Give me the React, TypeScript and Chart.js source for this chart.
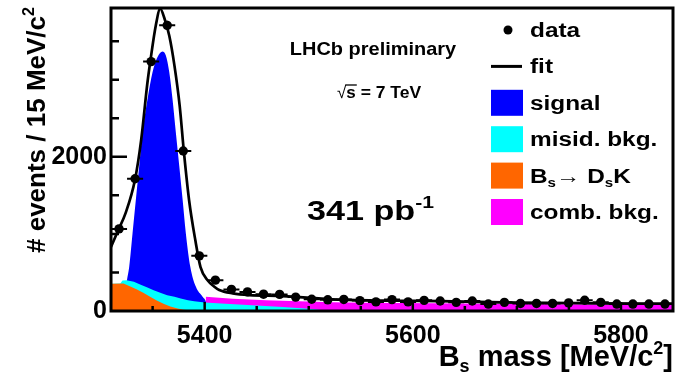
import React, { useEffect, useRef } from 'react';
import { Chart, registerables } from 'chart.js';

Chart.register(...registerables);

const FONT = '"Liberation Sans", Arial, Helvetica, sans-serif';

// ---- axes ----
const xMin = 5310;
const xMax = 5850;
const yMin = 0;
const yMax = 3930;
const xStep = 50;
const yStep = 500;
const xLabelValues = [5400, 5600, 5800];
const yLabelValues = [0, 2000];

// ---- data: 35 bins over 5310-5850 MeV/c^2 ----
const binCenters = [
  5317.71, 5333.14, 5348.57, 5364.0, 5379.43, 5394.86, 5410.29, 5425.71, 5441.14, 5456.57,
  5472.0, 5487.43, 5502.86, 5518.29, 5533.71, 5549.14, 5564.57, 5580.0, 5595.43, 5610.86,
  5626.29, 5641.71, 5657.14, 5672.57, 5688.0, 5703.43, 5718.86, 5734.29, 5749.71, 5765.14,
  5780.57, 5796.0, 5811.43, 5826.86, 5842.29,
];
const binHalfWidth = 7.71;
const dataCounts = [
  1065, 1715, 3235, 3705, 2075, 715, 400, 280, 248, 218,
  215, 180, 152, 145, 150, 135, 118, 148, 118, 138,
  130, 112, 130, 90, 112, 98, 98, 98, 105, 140,
  112, 90, 90, 90, 90,
];

// ---- fit (total) ----
const fitMass = [5310, 5317, 5324, 5333, 5339, 5345, 5348, 5353, 5357.3, 5361, 5366, 5371, 5376, 5380, 5385, 5391, 5396, 5403, 5409, 5414, 5427, 5443, 5475, 5523, 5587, 5626, 5700, 5775, 5850];
const fitValues = [830, 1050, 1270, 1700, 2220, 2960, 3260, 3700, 3920, 3810, 3570, 3180, 2660, 2070, 1440, 920, 570, 395, 318, 272, 229, 207, 194, 152, 133, 128, 108, 100, 95];

// ---- components (upper edges of the filled areas) ----
const signalMass = [5322, 5325.2, 5327.5, 5330.7, 5333.9, 5337.1, 5340.3, 5345.1, 5349.9, 5354.7, 5359.5, 5362.7, 5366.0, 5369.1, 5372.3, 5375.6, 5378.8, 5381.9, 5386.2, 5391.6, 5398.0, 5401.2, 5403];
const signalTop = [0, 380, 575, 1010, 1445, 1880, 2315, 2750, 3097, 3293, 3367, 3314, 3097, 2750, 2315, 1880, 1445, 1010, 575, 314, 184, 119, 0];

const misidMass = [5310, 5319, 5321, 5325, 5332, 5338, 5345, 5351, 5358, 5364, 5371, 5377, 5384, 5390, 5400, 5420, 5450, 5475, 5500, 5515, 5525];
const misidTop = [355, 358, 395, 400, 380, 345, 305, 270, 235, 205, 184, 162, 140, 127, 110, 95, 70, 52, 30, 10, 0];

const dskMass = [5310, 5322, 5328, 5335, 5341, 5348, 5354, 5361, 5367, 5374, 5380, 5392];
const dskTop = [355, 358, 320, 280, 236, 181, 137, 92, 58, 32, 15, 0];

const combMass = [5401, 5427, 5459, 5491, 5523, 5555, 5620, 5700, 5780, 5850];
const combTop = [185, 160, 140, 125, 115, 108, 100, 92, 85, 80];

// ---- text ----
const legendLabels = ['data', 'fit', 'signal', 'misid. bkg.', 'B_{s}\u2192 D_{s}K', 'comb. bkg.'];
const legendColors = ['#000000', '#000000', '#0000ff', '#00ffff', '#ff6600', '#ff00ff'];
const xTitle = 'B_{s} mass [MeV/c^{2}]';
const yTitle = '# events / 15 MeV/c^{2}';
const labelExperiment = 'LHCb preliminary';
const labelEnergy = ' = 7 TeV';
const labelLumi = '341 pb^{-1}';

type Seg = { t: string; s?: 'sub' | 'sup' };

function parseRich(str: string): Seg[] {
  const out: Seg[] = [];
  const re = /(_\{[^}]*\}|\^\{[^}]*\})/g;
  let last = 0;
  let m: RegExpExecArray | null;
  while ((m = re.exec(str))) {
    if (m.index > last) out.push({ t: str.slice(last, m.index) });
    const tok = m[0];
    out.push({ t: tok.slice(2, -1), s: tok[0] === '_' ? 'sub' : 'sup' });
    last = m.index + tok.length;
  }
  if (last < str.length) out.push({ t: str.slice(last) });
  return out;
}

function drawRich(
  ctx: CanvasRenderingContext2D,
  str: string,
  x: number,
  y: number,
  size: number,
  align: 'left' | 'right' | 'center',
  sx = 1
) {
  const segs = parseRich(str);
  ctx.save();
  ctx.textBaseline = 'alphabetic';
  ctx.textAlign = 'left';
  const fontFor = (s: Seg) => `bold ${s.s ? size * 0.62 : size}px ${FONT}`;
  const widths = segs.map((s) => {
    ctx.font = fontFor(s);
    return ctx.measureText(s.t).width;
  });
  const total = widths.reduce((a, b) => a + b, 0) * sx;
  const start = align === 'left' ? x : align === 'right' ? x - total : x - total / 2;
  ctx.translate(start, y);
  ctx.scale(sx, 1);
  let cx = 0;
  segs.forEach((s, i) => {
    ctx.font = fontFor(s);
    const dy = s.s === 'sub' ? size * 0.22 : s.s === 'sup' ? -size * 0.42 : 0;
    ctx.fillText(s.t, cx, dy);
    cx += widths[i];
  });
  ctx.restore();
  return total;
}

function stepTicks(min: number, max: number, step: number) {
  const out: { value: number }[] = [];
  for (let v = Math.ceil(min / step) * step; v <= max + 1e-9; v += step) out.push({ value: v });
  return out;
}

const rootPlugin = {
  id: 'rootStyle',
  beforeDatasetDraw(chart: any, args: any) {
    if (args.index !== 0) return;
    const { ctx } = chart;
    const xs = chart.scales.x;
    const ys = chart.scales.y;
    ctx.save();
    ctx.strokeStyle = '#000';
    ctx.lineWidth = 2;
    binCenters.forEach((m, i) => {
      const n = dataCounts[i];
      const e = Math.sqrt(n);
      const px = xs.getPixelForValue(m);
      const py = ys.getPixelForValue(n);
      ctx.beginPath();
      ctx.moveTo(xs.getPixelForValue(m - binHalfWidth), py);
      ctx.lineTo(xs.getPixelForValue(m + binHalfWidth), py);
      ctx.moveTo(px, ys.getPixelForValue(n - e));
      ctx.lineTo(px, ys.getPixelForValue(n + e));
      ctx.stroke();
    });
    ctx.restore();
  },
  afterDatasetsDraw(chart: any) {
    const { ctx, chartArea } = chart;
    const { left, right, top, bottom } = chartArea;
    const xs = chart.scales.x;
    const ys = chart.scales.y;
    ctx.save();
    ctx.strokeStyle = '#000';
    ctx.lineWidth = 2.5;
    ctx.beginPath();
    ys.ticks.forEach((t: any) => {
      if (t.value <= yMin || t.value >= yMax) return;
      const py = ys.getPixelForValue(t.value);
      const len = yLabelValues.includes(t.value) ? 16 : 8;
      ctx.moveTo(left, py);
      ctx.lineTo(left + len, py);
    });
    xs.ticks.forEach((t: any) => {
      if (t.value <= xMin || t.value >= xMax) return;
      const px = xs.getPixelForValue(t.value);
      const len = xLabelValues.includes(t.value) ? 9 : 5;
      ctx.moveTo(px, bottom);
      ctx.lineTo(px, bottom - len);
    });
    ctx.stroke();
    ctx.lineWidth = 3;
    ctx.strokeRect(left, top, right - left, bottom - top);
    ctx.restore();
  },
  afterDraw(chart: any) {
    const { ctx } = chart;
    ctx.save();
    ctx.fillStyle = '#000';
    ctx.strokeStyle = '#000';
    // axis titles
    drawRich(ctx, xTitle, 673, 366, 29, 'right');
    ctx.save();
    ctx.translate(45, 7);
    ctx.rotate(-Math.PI / 2);
    drawRich(ctx, yTitle, 0, 0, 26, 'right');
    ctx.restore();

    // annotations
    drawRich(ctx, labelExperiment, 373, 55, 19, 'center', 1.05);
    const xr = 337;
    ctx.textBaseline = 'alphabetic';
    ctx.textAlign = 'left';
    ctx.font = `17px ${FONT}`;
    ctx.fillText('\u221A', xr, 98);
    const wr = ctx.measureText('\u221A').width;
    ctx.font = `bold 17px ${FONT}`;
    ctx.fillText('s', xr + wr, 98);
    const ws = ctx.measureText('s').width;
    ctx.lineWidth = 1.3;
    ctx.beginPath();
    ctx.moveTo(xr + wr - 1, 85);
    ctx.lineTo(xr + wr + ws + 1, 85);
    ctx.stroke();
    drawRich(ctx, labelEnergy, xr + wr + ws, 98, 17, 'left', 1.03);
    drawRich(ctx, labelLumi, 307, 220, 28, 'left', 1.22);

    // legend
    const rowY0 = 30;
    const rowGap = 36.4;
    legendLabels.forEach((lab, i) => {
      const cy = rowY0 + rowGap * i;
      if (i === 0) {
        ctx.fillStyle = legendColors[i];
        ctx.beginPath();
        ctx.arc(508, cy, 4.5, 0, Math.PI * 2);
        ctx.fill();
      } else if (i === 1) {
        ctx.strokeStyle = legendColors[i];
        ctx.lineWidth = 3;
        ctx.beginPath();
        ctx.moveTo(491, cy);
        ctx.lineTo(522, cy);
        ctx.stroke();
      } else {
        ctx.fillStyle = legendColors[i];
        ctx.fillRect(491, cy - 13, 32, 26);
      }
      ctx.fillStyle = '#000';
      drawRich(ctx, lab, 530, cy + 7, 19.5, 'left', 1.25);
    });
    ctx.restore();
  },
};

const toXY = (xs: number[], ys: number[]) => xs.map((x, i) => ({ x, y: ys[i] }));

const noScalePadding = (s: any) => {
  s.paddingTop = 0;
  s.paddingBottom = 0;
  s.paddingLeft = 0;
  s.paddingRight = 0;
};

export default function App() {
  const ref = useRef<HTMLCanvasElement | null>(null);
  useEffect(() => {
    if (!ref.current) return;
    const tickFont = { family: FONT, size: 25, weight: 'bold' as const };
    const chart = new Chart(ref.current, {
      type: 'line',
      data: {
        datasets: [
          {
            label: 'data',
            data: toXY(binCenters, dataCounts),
            showLine: false,
            pointRadius: 4.7,
            pointBackgroundColor: '#000',
            pointBorderColor: '#000',
            pointBorderWidth: 0,
            order: 0,
          },
          {
            label: 'fit',
            data: toXY(fitMass, fitValues),
            borderColor: '#000',
            borderWidth: 2.7,
            pointRadius: 0,
            cubicInterpolationMode: 'monotone',
            fill: false,
            order: 1,
          },
          {
            label: 'Bs->DsK',
            data: toXY(dskMass, dskTop),
            borderWidth: 0,
            pointRadius: 0,
            backgroundColor: '#ff6600',
            fill: 'origin',
            order: 2,
          },
          {
            label: 'misid. bkg.',
            data: toXY(misidMass, misidTop),
            borderWidth: 0,
            pointRadius: 0,
            backgroundColor: '#00ffff',
            fill: 'origin',
            order: 3,
          },
          {
            label: 'comb. bkg.',
            data: toXY(combMass, combTop),
            borderWidth: 0,
            pointRadius: 0,
            backgroundColor: '#ff00ff',
            fill: 'origin',
            order: 4,
          },
          {
            label: 'signal',
            data: toXY(signalMass, signalTop),
            borderWidth: 0,
            pointRadius: 0,
            backgroundColor: '#0000ff',
            cubicInterpolationMode: 'monotone',
            fill: 'origin',
            order: 5,
          },
        ],
      },
      options: {
        animation: false,
        responsive: false,
        devicePixelRatio: 1,
        layout: { padding: { left: 0, top: 8, right: 6, bottom: 0 } },
        plugins: { legend: { display: false }, tooltip: { enabled: false } },
        scales: {
          x: {
            type: 'linear',
            min: xMin,
            max: xMax,
            grid: { display: false, drawTicks: false },
            border: { display: false },
            afterBuildTicks: (s: any) => {
              s.ticks = stepTicks(xMin, xMax, xStep);
            },
            ticks: {
              autoSkip: false,
              maxRotation: 0,
              padding: 10,
              color: '#000',
              font: tickFont,
              callback: (v: any) => (xLabelValues.includes(Number(v)) ? String(v) : ''),
            },
            afterFit: (s: any) => {
              s.height = 71;
              noScalePadding(s);
            },
          },
          y: {
            type: 'linear',
            min: yMin,
            max: yMax,
            grid: { display: false, drawTicks: false },
            border: { display: false },
            afterBuildTicks: (s: any) => {
              s.ticks = stepTicks(yMin, yMax, yStep);
            },
            ticks: {
              autoSkip: false,
              padding: 4,
              color: '#000',
              font: tickFont,
              callback: (v: any) => (yLabelValues.includes(Number(v)) ? String(v) : ''),
            },
            afterFit: (s: any) => {
              s.width = 111;
              noScalePadding(s);
            },
          },
        },
      },
      plugins: [rootPlugin],
    } as any);
    return () => chart.destroy();
  }, []);
  return (
    <div style={{ position: 'absolute', left: 0, top: 0, width: 679, height: 382, background: '#fff' }}>
      <canvas ref={ref} width={679} height={382} style={{ display: 'block' }} />
    </div>
  );
}
